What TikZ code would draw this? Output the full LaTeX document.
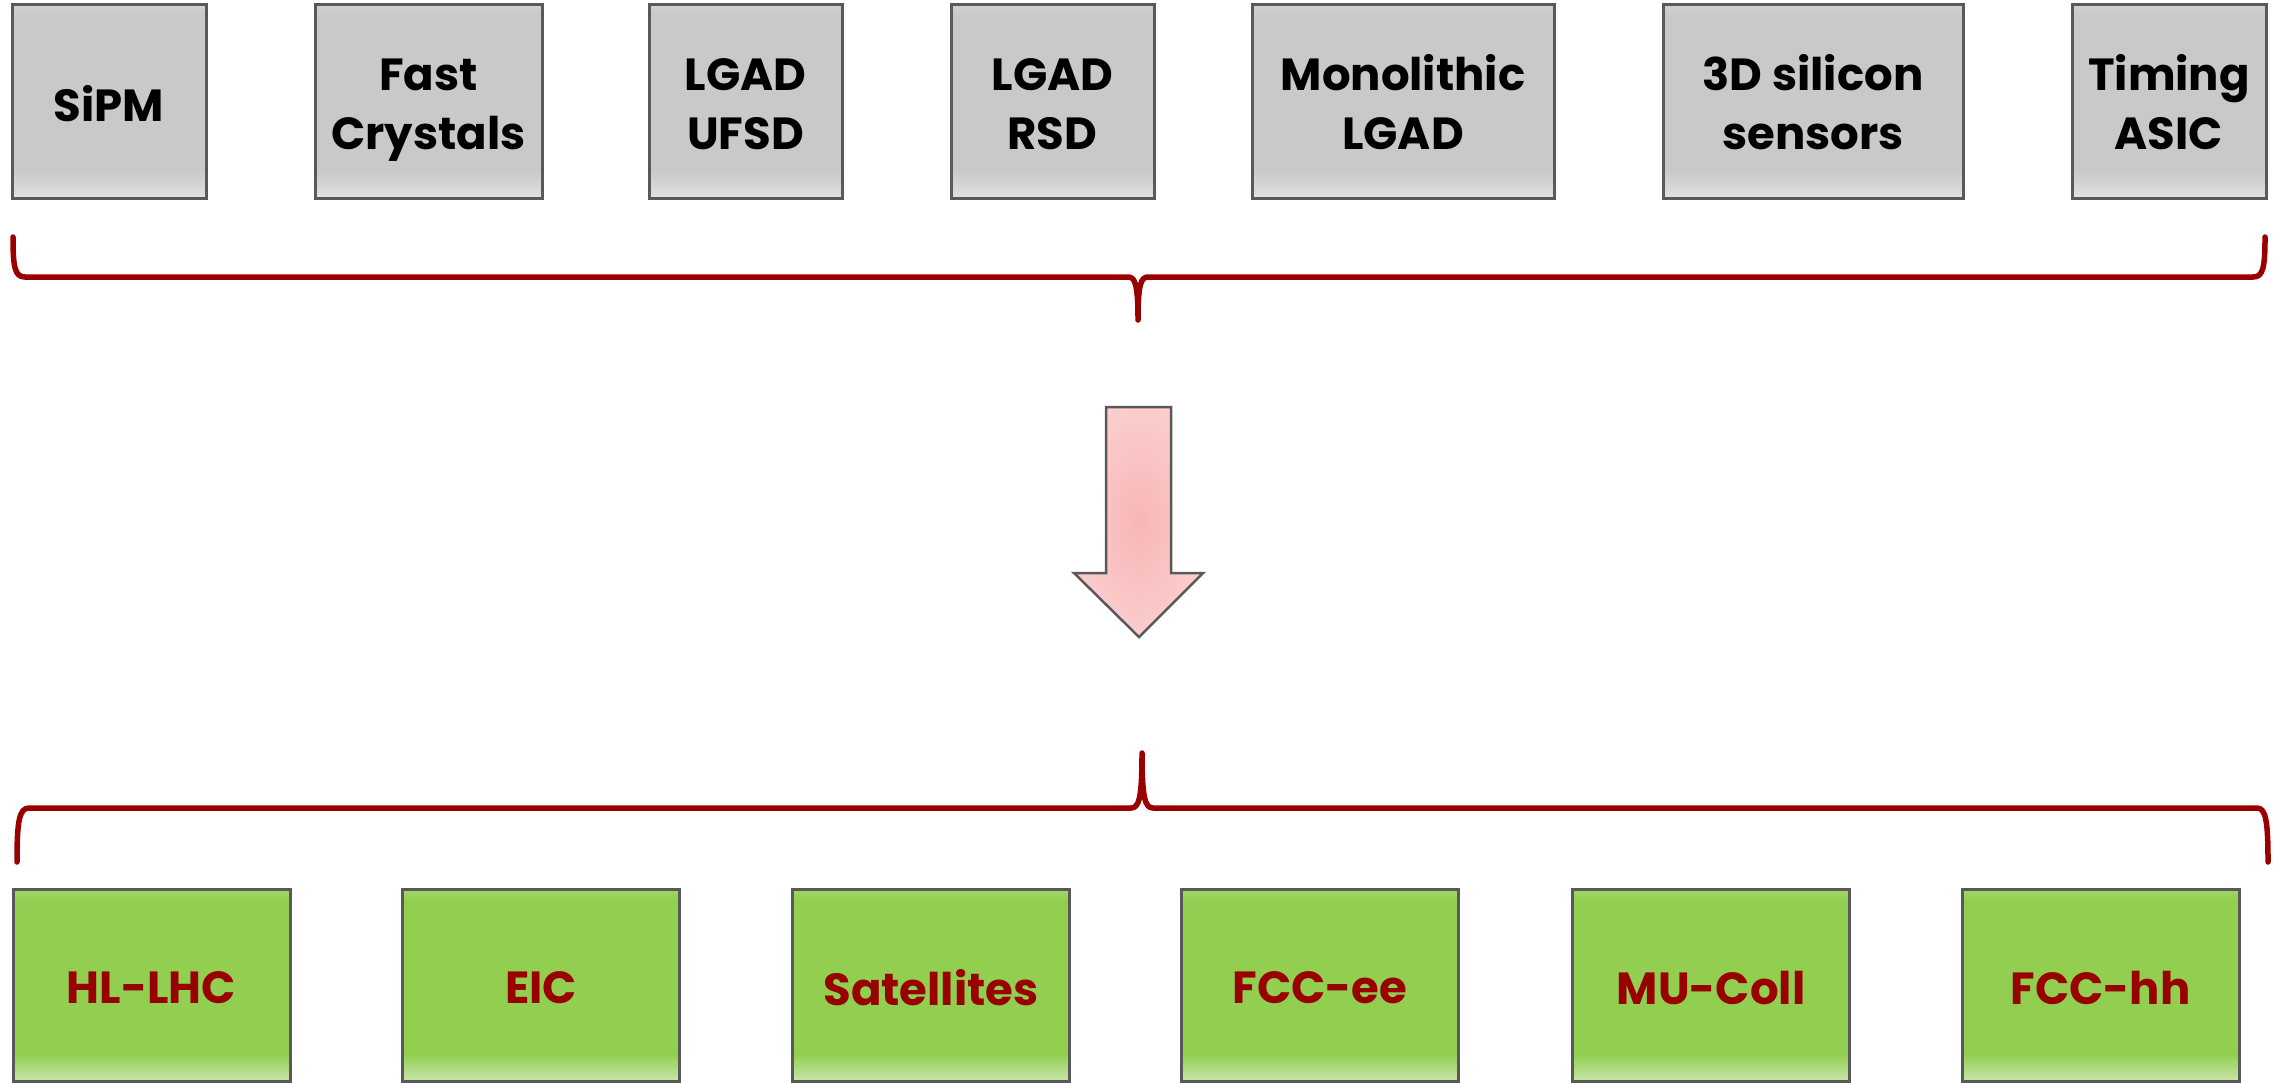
\documentclass[tikz,border=0pt]{standalone}
\usepackage{fontspec}
\setmainfont{Poppins}
\definecolor{boxline}{HTML}{595959}
\definecolor{grayA}{HTML}{C9C9C9}
\definecolor{grayB}{HTML}{E2E2E2}
\definecolor{greenA}{HTML}{92CF50}
\definecolor{greenB}{HTML}{C8E6AA}
\definecolor{darkred}{HTML}{990000}
\definecolor{pinkA}{HTML}{F8B6B6}
\definecolor{pinkB}{HTML}{FBCDCD}
\pgfdeclareverticalshading{grayglow}{100bp}{color(0bp)=(grayB); color(25bp)=(grayB); color(32bp)=(grayA); color(72bp)=(grayA); color(75bp)=(grayA!85!white); color(100bp)=(grayA!85!white)}
\pgfdeclareverticalshading{greenglow}{100bp}{color(0bp)=(greenB); color(25bp)=(greenB); color(32bp)=(greenA); color(72bp)=(greenA); color(75bp)=(greenA!85!white); color(100bp)=(greenA!85!white)}
\newcommand\twolines[2]{\raisebox{-7pt}[\height][\depth]{\begin{tabular}{@{}c@{}}#1\\#2\end{tabular}}}
\newcommand\oneline[1]{\raisebox{-3pt}[\height][\depth]{#1}}
\tikzset{
  techbox/.style={draw=boxline, line width=3pt, shading=grayglow, inner sep=0pt,
    minimum height=194pt, align=center, font=\bfseries\fontsize{45}{59}\selectfont, text=black},
  appbox/.style={draw=boxline, line width=3pt, shading=greenglow, inner sep=0pt,
    minimum width=277pt, minimum height=192pt, align=center, font=\bfseries\fontsize{45}{59}\selectfont, text=darkred},
  bracestyle/.style={draw=darkred, line width=5.5pt, line cap=round, line join=round},
  bigarrow/.style={draw=boxline, line width=2.5pt, inner color=pinkA, outer color=pinkB}
}
\begin{document}
\begin{tikzpicture}[x=1pt, y=-1pt]
\useasboundingbox (0,0) rectangle (2277,1082);
% top row
\node[techbox, minimum width=194pt] (sipm) at (109,101) {\oneline{SiPM}};
\node[techbox, minimum width=227pt] (fast) at (428.5,101) {\twolines{Fast}{Crystals}};
\node[techbox, minimum width=193pt] (ufsd) at (745.5,101) {\twolines{LGAD}{UFSD}};
\node[techbox, minimum width=203pt] (rsd) at (1052.5,101) {\twolines{LGAD}{RSD}};
\node[techbox, minimum width=302pt] (mono) at (1403,101) {\twolines{Monolithic}{LGAD}};
\node[techbox, minimum width=300pt] (threed) at (1813,101) {\twolines{3D silicon}{sensors}};
\node[techbox, minimum width=194pt] (asic) at (2169,101) {\twolines{Timing}{ASIC}};
% bottom row
\node[appbox] (hllhc) at (151.5,985) {\oneline{HL-LHC}};
\node[appbox] (eic) at (541,985) {\oneline{EIC}};
\node[appbox] (sat) at (931,985) {\oneline{Satellites}};
\node[appbox] (fccee) at (1320,985) {\oneline{FCC-ee}};
\node[appbox] (mucoll) at (1711,985) {\oneline{MU-Coll}};
\node[appbox] (fcchh) at (2100.5,985) {\oneline{FCC-hh}};
% top brace
\coordinate (tbl) at (13,237);
\coordinate (tbm) at (1138,320);
\coordinate (tbr) at (2265,237);
\path[bracestyle] (tbl) .. controls (13,268) and (15,277) .. (25,277) -- (1128,277)
  .. controls (1135,277) and (1138,284) .. (tbm)
  .. controls (1138,284) and (1141,277) .. (1148,277) -- (2253,277)
  .. controls (2263,277) and (2265,268) .. (tbr);
% arrow
\path[bigarrow] (1106,407) -- (1171,407) -- (1171,573) -- (1203,573) -- (1139,637)
  -- (1074,573) -- (1106,573) -- cycle;
% bottom brace
\coordinate (bbl) at (17,862);
\coordinate (bbm) at (1142,753);
\coordinate (bbr) at (2268,862);
\path[bracestyle] (bbl) .. controls (17,822) and (19,808) .. (29,808) -- (1131,808)
  .. controls (1139,808) and (1142,798) .. (bbm)
  .. controls (1142,798) and (1145,808) .. (1153,808) -- (2257,808)
  .. controls (2266,808) and (2268,822) .. (bbr);
\end{tikzpicture}
\end{document}
